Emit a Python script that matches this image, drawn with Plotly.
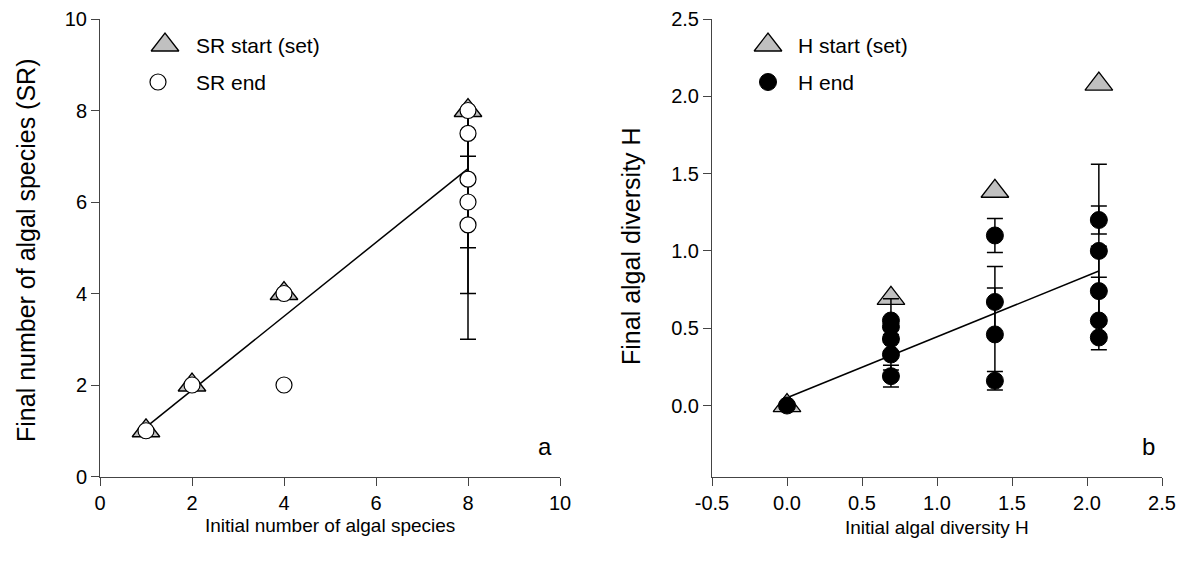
import plotly.graph_objects as go

# ---- Panel a data ----
sr_start_x = [1, 2, 4, 8]
sr_start_y = [1, 2, 4, 8]
sr_end_x = [1, 2, 4, 4, 8, 8, 8, 8, 8]
sr_end_y = [1, 2, 4, 2, 8, 7.5, 6.5, 6, 5.5]
sr_err_plus = [None, None, None, None, 0, 0.5, 1.5, 2, 2.5]
sr_err_minus = [None, None, None, None, 0, 0.5, 1.5, 2, 2.5]
sr_fit_x = [1, 8]
sr_fit_y = [1.08, 6.73]

# ---- Panel b data ----
h_start_x = [0, 0.693, 1.386, 2.079]
h_start_y = [0, 0.693, 1.386, 2.079]
h_end_x = [0,
           0.693, 0.693, 0.693, 0.693, 0.693,
           1.386, 1.386, 1.386, 1.386,
           2.079, 2.079, 2.079, 2.079, 2.079]
h_end_y = [0,
           0.55, 0.51, 0.43, 0.33, 0.19,
           1.10, 0.67, 0.46, 0.16,
           1.20, 1.00, 0.74, 0.55, 0.44]
h_err_plus = [None,
              0.14, 0.05, 0.08, 0.10, 0.07,
              0.11, 0.23, 0.30, 0.06,
              0.09, 0.56, 0.29, 0.28, 0.09]
h_err_minus = [None,
               0.14, 0.05, 0.08, 0.10, 0.07,
               0.11, 0.23, 0.30, 0.06,
               0.09, 0.56, 0.29, 0.09, 0.08]
h_fit_x = [0, 2.079]
h_fit_y = [0.05, 0.87]

FONT = "Liberation Sans, Arial, sans-serif"
GREY = "#c0c0c0"
TRI = dict(symbol="triangle-up", size=24, color=GREY, line=dict(color="black", width=1.3))
OPEN = dict(symbol="circle", size=16, color="white", line=dict(color="black", width=1.2))
FILL = dict(symbol="circle", size=17, color="black", line=dict(color="black", width=1))


def split(xs, ys, ep, em):
    """Separate points that carry error bars from those that do not."""
    with_e = [i for i in range(len(xs)) if ep[i] is not None]
    no_e = [i for i in range(len(xs)) if ep[i] is None]
    return ([xs[i] for i in no_e], [ys[i] for i in no_e],
            [xs[i] for i in with_e], [ys[i] for i in with_e],
            [ep[i] for i in with_e], [em[i] for i in with_e])


fig = go.Figure()


def add_panel(fx, fy, sx, sy, ex, ey, ep, em, emarker, xa, ya):
    fig.add_trace(go.Scatter(x=fx, y=fy, mode="lines", line=dict(color="black", width=1.5),
                             xaxis=xa, yaxis=ya, showlegend=False, hoverinfo="skip"))
    fig.add_trace(go.Scatter(x=sx, y=sy, mode="markers", marker=TRI,
                             xaxis=xa, yaxis=ya, showlegend=False))
    nx, ny, wx, wy, wp, wm = split(ex, ey, ep, em)
    fig.add_trace(go.Scatter(x=nx, y=ny, mode="markers", marker=emarker,
                             xaxis=xa, yaxis=ya, showlegend=False))
    fig.add_trace(go.Scatter(x=wx, y=wy, mode="markers", marker=emarker,
                             error_y=dict(type="data", array=wp, arrayminus=wm,
                                          color="black", thickness=1.5, width=8),
                             xaxis=xa, yaxis=ya, showlegend=False))


add_panel(sr_fit_x, sr_fit_y, sr_start_x, sr_start_y, sr_end_x, sr_end_y,
          sr_err_plus, sr_err_minus, OPEN, "x", "y")
add_panel(h_fit_x, h_fit_y, h_start_x, h_start_y, h_end_x, h_end_y,
          h_err_plus, h_err_minus, FILL, "x2", "y2")

# Legend symbols (pixel-like overlay coordinates)
for (lx, ly, mk) in [(165, 45, TRI), (158, 82, OPEN), (768, 45, TRI), (768, 82, FILL)]:
    fig.add_trace(go.Scatter(x=[lx], y=[ly], mode="markers", marker=mk,
                             xaxis="x3", yaxis="y3", showlegend=False, hoverinfo="skip"))

W, H = 1192, 575
axis_common = dict(showgrid=False, zeroline=False, showline=True, linecolor="#444",
                   linewidth=1, ticks="outside", ticklen=8, tickcolor="#444",
                   tickfont=dict(family=FONT, size=20, color="black"), mirror=False,
                   automargin=False)

fig.update_layout(
    width=W, height=H,
    autosize=False,
    margin=dict(l=0, r=0, t=0, b=0, pad=0, autoexpand=False),
    paper_bgcolor="white", plot_bgcolor="rgba(0,0,0,0)",
    xaxis=dict(domain=[100 / W, 560 / W], range=[0, 10], tickvals=[0, 2, 4, 6, 8, 10],
               anchor="y", **axis_common),
    yaxis=dict(domain=[1 - 476.5 / H, 1 - 19 / H], range=[0, 10], tickvals=[0, 2, 4, 6, 8, 10],
               anchor="x", **axis_common),
    xaxis2=dict(domain=[712 / W, 1162 / W], range=[-0.5, 2.5],
                tickvals=[-0.5, 0, 0.5, 1.0, 1.5, 2.0, 2.5],
                ticktext=["-0.5", "0.0", "0.5", "1.0", "1.5", "2.0", "2.5"],
                anchor="y2", **axis_common),
    yaxis2=dict(domain=[1 - 476.5 / H, 1 - 19 / H], range=[-0.459, 2.5],
                tickvals=[0, 0.5, 1.0, 1.5, 2.0, 2.5],
                ticktext=["0.0", "0.5", "1.0", "1.5", "2.0", "2.5"],
                anchor="x2", **axis_common),
    xaxis3=dict(domain=[0, 1], range=[0, W], visible=False, anchor="y3", automargin=False),
    yaxis3=dict(domain=[0, 1], range=[H, 0], visible=False, anchor="x3", automargin=False),
    font=dict(family=FONT, color="black"),
)

anns = [
    dict(text="SR start (set)", x=194, y=45, xanchor="left", size=21),
    dict(text="SR end", x=194, y=82, xanchor="left", size=21),
    dict(text="H start (set)", x=796, y=45, xanchor="left", size=21),
    dict(text="H end", x=796, y=82, xanchor="left", size=21),
    dict(text="a", x=545, y=446, xanchor="center", size=24),
    dict(text="b", x=1148, y=446, xanchor="center", size=24),
    dict(text="Initial number of algal species", x=330, y=525, xanchor="center", size=19),
    dict(text="Initial algal diversity H", x=937, y=527, xanchor="center", size=19),
]
for a in anns:
    fig.add_annotation(text=a["text"], x=a["x"], y=a["y"], xref="x3", yref="y3",
                       xanchor=a["xanchor"], yanchor="middle", showarrow=False,
                       font=dict(family=FONT, size=a["size"], color="black"))
fig.add_annotation(text="Final number of algal species (SR)", x=26, y=250, xref="x3", yref="y3",
                   textangle=-90, showarrow=False, xanchor="center", yanchor="middle",
                   font=dict(family=FONT, size=25, color="black"))
fig.add_annotation(text="Final algal diversity H", x=631, y=246, xref="x3", yref="y3",
                   textangle=-90, showarrow=False, xanchor="center", yanchor="middle",
                   font=dict(family=FONT, size=25, color="black"))

fig.write_html("out.html")
